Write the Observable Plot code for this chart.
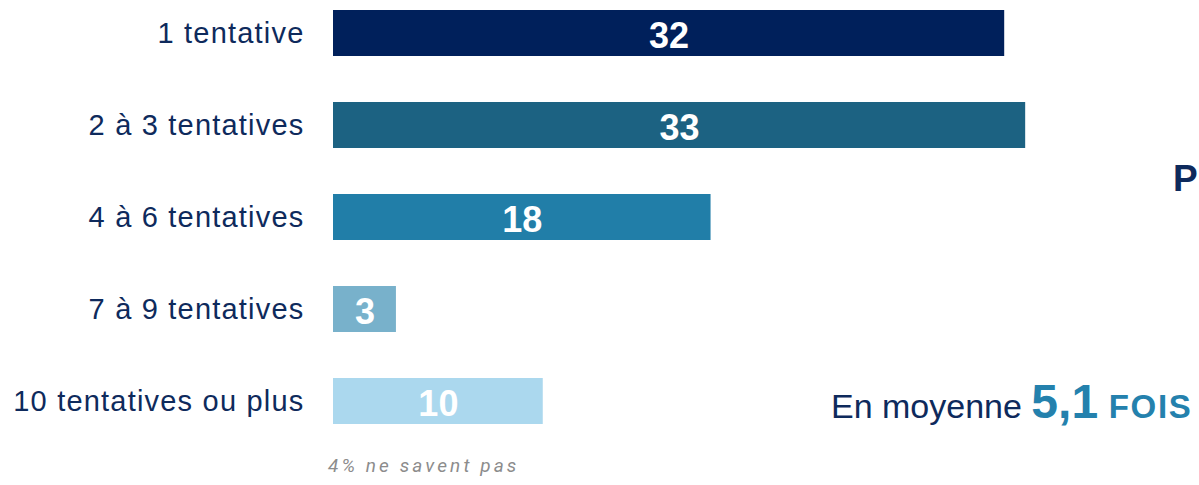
<!DOCTYPE html>
<html>
<head>
<meta charset="utf-8">
<script src="https://cdn.jsdelivr.net/npm/d3@7"></script>
<script src="https://cdn.jsdelivr.net/npm/@observablehq/plot@0.6"></script>
<style>
  html, body { margin: 0; padding: 0; background: #fff; }
  #wrap { position: relative; width: 1199px; height: 485px; overflow: hidden; }
  #wrap > svg { position: absolute; left: 0; top: 0; }
</style>
</head>
<body>
<div id="wrap"></div>
<script>
const categories = ["1 tentative", "2 à 3 tentatives", "4 à 6 tentatives", "7 à 9 tentatives", "10 tentatives ou plus"];
const values = [32, 33, 18, 3, 10];
const barColors = ["#00205B", "#1C6282", "#217EA8", "#78B1CB", "#ABD8EE"];
const averageText = "En moyenne ";
const averageValue = "5,1";
const averageUnit = " FOIS";
const cutText = "P";
const footnote = "4% ne savent pas";

const data = categories.map((c, i) => ({category: c, value: values[i], color: barColors[i]}));

const chart = Plot.plot({
  width: 1199,
  height: 485,
  marginLeft: 333,
  marginRight: 27,
  marginTop: 9,
  marginBottom: 59.75,
  style: {fontFamily: "'Liberation Sans', Arial, sans-serif", background: "transparent"},
  x: {domain: [0, 40], axis: null},
  y: {domain: categories, paddingInner: 0.5, paddingOuter: 0, align: 0.5, label: null},
  marks: [
    Plot.barX(data, {x: "value", y: "category", fill: "color"}),
    Plot.text(data, {x: d => d.value / 2, y: "category", text: d => String(d.value), fill: "white", fontWeight: "bold", fontSize: 36, dy: 3}),
    Plot.axisY({tickSize: 0, tickPadding: 29, fontSize: 29, fill: "#0E2A5C", textAnchor: "end"})
  ]
});
chart.querySelectorAll("g[aria-label='y-axis tick label'] text").forEach(t => t.setAttribute("letter-spacing", "1.2"));
document.getElementById("wrap").appendChild(chart);

// annotations
const ann = d3.select("#wrap").append("svg").attr("width", 1199).attr("height", 485)
  .style("font-family", "'Liberation Sans', Arial, sans-serif");
const avg = ann.append("text").attr("x", 831).attr("y", 418).attr("fill", "#0E2A5C");
avg.append("tspan").attr("font-size", 34).text(averageText);
avg.append("tspan").attr("font-size", 48).attr("font-weight", "bold").attr("fill", "#2481AD").text(averageValue);
avg.append("tspan").attr("font-size", 33).attr("font-weight", "bold").attr("fill", "#2481AD").attr("letter-spacing", "1.6").text(averageUnit);
ann.append("text").attr("x", 1173).attr("y", 191).attr("font-size", 37).attr("font-weight", "bold").attr("fill", "#0E2A5C").text(cutText);
ann.append("text").attr("x", 328).attr("y", 472).attr("font-size", 19).attr("font-style", "italic")
  .attr("letter-spacing", "3.1").attr("fill", "#8C8C8C").style("font-family", "Roboto, 'Open Sans', sans-serif").text(footnote);
</script>
</body>
</html>
